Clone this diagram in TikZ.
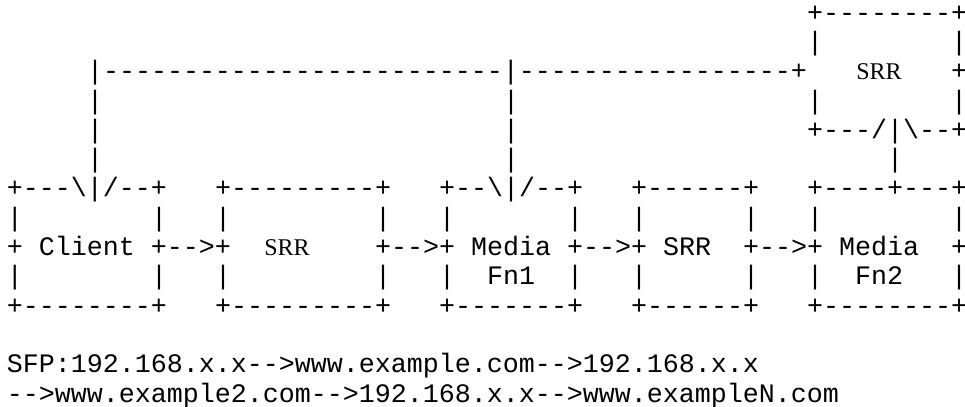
\documentclass[tikz,border=0pt]{standalone}
\usepackage{fontspec}
\setmonofont{Liberation Mono}
\newfontfamily\srrfont{Liberation Serif}
\tikzset{
  ascii/.style={font=\ttfamily\fontsize{20}{22}\selectfont, anchor=base west,
    inner sep=0pt, outer sep=0pt, text=black},
  serifsrr/.style={font=\srrfont\fontsize{18}{20}\selectfont, anchor=base,
    inner sep=0pt, outer sep=0pt, text=black},
}
% character grid: 16px columns, 29.3px rows (1px = 0.75pt)
\newcommand\gridtext[4]{\node[ascii] (#1) at ({7+16*#2},{29.3*#3-8.2}) {#4};}
\newcommand\gridlabel[4]{\node[serifsrr] (#1) at ({15+16*#2},{29.3*#3-8.2}) {#4};}
\newcommand\bs{\textbackslash{}}
\begin{document}
\begin{tikzpicture}[x=0.75pt,y=-0.75pt]
\useasboundingbox (0,0) rectangle (965,407);

% upper SRR box
\gridtext{topA}{50}{1}{+--------+}
\gridtext{topB}{50}{2}{|}
\gridtext{topC}{59}{2}{|}
\gridtext{line}{5}{3}{|-------------------------|-----------------+}
\gridtext{topD}{59}{3}{+}
\gridlabel{srrtop}{54}{3}{SRR}
\gridtext{vA4}{5}{4}{|}
\gridtext{vB4}{31}{4}{|}
\gridtext{topE}{50}{4}{|}
\gridtext{topF}{59}{4}{|}
\gridtext{vA5}{5}{5}{|}
\gridtext{vB5}{31}{5}{|}
\gridtext{topG}{50}{5}{+---/|\bs--+}
\gridtext{vA6}{5}{6}{|}
\gridtext{vB6}{31}{6}{|}
\gridtext{vC6}{55}{6}{|}

% box tops
\gridtext{clientT}{0}{7}{+---\bs|/--+}
\gridtext{srrT}{13}{7}{+---------+}
\gridtext{fnoneT}{27}{7}{+--\bs|/--+}
\gridtext{srrtwoT}{39}{7}{+------+}
\gridtext{fntwoT}{50}{7}{+----+---+}

% box sides
\gridtext{s80}{0}{8}{|}
\gridtext{s81}{9}{8}{|}
\gridtext{s82}{13}{8}{|}
\gridtext{s83}{23}{8}{|}
\gridtext{s84}{27}{8}{|}
\gridtext{s85}{35}{8}{|}
\gridtext{s86}{39}{8}{|}
\gridtext{s87}{46}{8}{|}
\gridtext{s88}{50}{8}{|}
\gridtext{s89}{59}{8}{|}

% middle row with the chain
\gridtext{rowA}{0}{9}{+ Client +-->+}
\gridlabel{srrmid}{17}{9}{SRR}
\gridtext{rowB}{23}{9}{+-->+ Media +-->+ SRR}
\gridtext{rowC}{46}{9}{+-->+ Media}
\gridtext{rowD}{59}{9}{+}

\gridtext{s100}{0}{10}{|}
\gridtext{s101}{9}{10}{|}
\gridtext{s102}{13}{10}{|}
\gridtext{s103}{23}{10}{|}
\gridtext{s104}{27}{10}{|}
\gridtext{fnone}{30}{10}{Fn1}
\gridtext{s105}{35}{10}{|}
\gridtext{s106}{39}{10}{|}
\gridtext{s107}{46}{10}{|}
\gridtext{s108}{50}{10}{|}
\gridtext{fntwo}{53}{10}{Fn2}
\gridtext{s109}{59}{10}{|}

% box bottoms
\gridtext{clientB}{0}{11}{+--------+}
\gridtext{srrB}{13}{11}{+---------+}
\gridtext{fnoneB}{27}{11}{+-------+}
\gridtext{srrtwoB}{39}{11}{+------+}
\gridtext{fntwoB}{50}{11}{+--------+}

% path description
\gridtext{sfpA}{0}{13}{SFP:192.168.x.x-->www.example.com-->192.168.x.x}
\gridtext{sfpB}{0}{14}{-->www.example2.com-->192.168.x.x-->www.exampleN.com}
\end{tikzpicture}
\end{document}
